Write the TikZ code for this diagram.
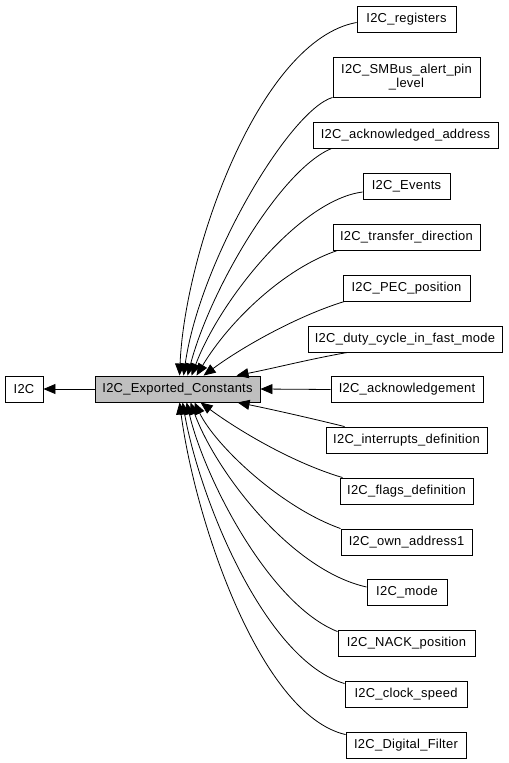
\documentclass[tikz,border=0pt]{standalone}
\usepackage{fontspec}
\setmainfont[LetterSpace=2]{Liberation Sans}
\usetikzlibrary{arrows.meta}
\definecolor{ecfill}{HTML}{BFBFBF}
\begin{document}
\begin{tikzpicture}[x=1bp,y=-1bp,
  box/.style={draw=black, line width=0.9bp, fill=white, inner sep=0pt,
    minimum height=26bp, font=\fontsize{13}{13.5}\selectfont, align=center},
  edge/.style={line width=0.8bp, -{Triangle[length=12bp,width=10bp]}}]
\useasboundingbox (0,0) rectangle (509,763);
\node[box, minimum width=38bp] (i2c) at (24,389) {I2C};
\node[box, minimum width=165bp, fill=ecfill] (ec) at (177.5,389) {I2C\_Exported\_Constants};
\node[box, minimum width=99bp] (reg) at (406.5,19) {I2C\_registers};
\node[box, minimum width=147bp, minimum height=40bp] (smb) at (406.5,77) {I2C\_SMBus\_alert\_pin\\\_level};
\node[box, minimum width=185bp] (ackaddr) at (405.5,135) {I2C\_acknowledged\_address};
\node[box, minimum width=87bp] (events) at (406.5,186) {I2C\_Events};
\node[box, minimum width=147bp] (transfer) at (406.5,237) {I2C\_transfer\_direction};
\node[box, minimum width=127bp] (pec) at (406.5,288) {I2C\_PEC\_position};
\node[box, minimum width=194bp] (duty) at (405,339) {I2C\_duty\_cycle\_in\_fast\_mode};
\node[box, minimum width=152bp] (ack) at (407,389.5) {I2C\_acknowledgement};
\node[box, minimum width=161bp] (intr) at (406.5,440) {I2C\_interrupts\_definition};
\node[box, minimum width=133bp] (flags) at (406.5,491) {I2C\_flags\_definition};
\node[box, minimum width=131bp] (own) at (406.5,542) {I2C\_own\_address1};
\node[box, minimum width=80bp] (mode) at (407,592) {I2C\_mode};
\node[box, minimum width=137bp] (nack) at (406.5,643) {I2C\_NACK\_position};
\node[box, minimum width=122bp] (clock) at (406,694) {I2C\_clock\_speed};
\node[box, minimum width=120bp] (digital) at (406,745) {I2C\_Digital\_Filter};

\draw[edge] (ec) -- (i2c);
\draw[edge] ([yshift=-3.5bp]reg.west) .. controls (260,40) and (185,250) .. ([xshift=85bp]ec.north west);
\draw[edge] (smb.south west) .. controls (290,110) and (200,260) .. ([xshift=89bp]ec.north west);
\draw[edge] ([xshift=19bp]ackaddr.south west) .. controls (280,170) and (210,290) .. ([xshift=93bp]ec.north west);
\draw[edge] ([yshift=-6bp]events.west) .. controls (300,200) and (220,300) .. ([xshift=97bp]ec.north west);
\draw[edge] ([xshift=5bp]transfer.south west) .. controls (285,268) and (230,320) .. ([xshift=102bp]ec.north west);
\draw[edge] ([xshift=2bp]pec.south west) .. controls (300,315) and (245,345) .. ([xshift=109bp]ec.north west);
\draw[edge] ([xshift=40bp]duty.south west) .. controls (310,359) and (275,368) .. ([xshift=142bp]ec.north west);
\draw[edge] (ack.west) -- (ec.east);
\draw[edge] ([xshift=19bp]intr.north west) .. controls (310,418) and (270,409) .. ([xshift=143bp]ec.south west);
\draw[edge] ([xshift=3bp]flags.north west) .. controls (290,462) and (235,428) .. ([xshift=106bp]ec.south west);
\draw[edge] (own.north west) .. controls (280,507) and (215,445) .. ([xshift=100bp]ec.south west);
\draw[edge] ([yshift=5bp]mode.west) .. controls (290,570) and (215,470) .. ([xshift=96bp]ec.south west);
\draw[edge] ([yshift=-2bp]nack.north west) .. controls (270,605) and (205,480) .. ([xshift=92bp]ec.south west);
\draw[edge] ([yshift=-3bp]clock.north west) .. controls (265,660) and (200,500) .. ([xshift=88bp]ec.south west);
\draw[edge] ([yshift=-3bp]digital.north west) .. controls (260,715) and (195,520) .. ([xshift=85bp]ec.south west);
\end{tikzpicture}
\end{document}
